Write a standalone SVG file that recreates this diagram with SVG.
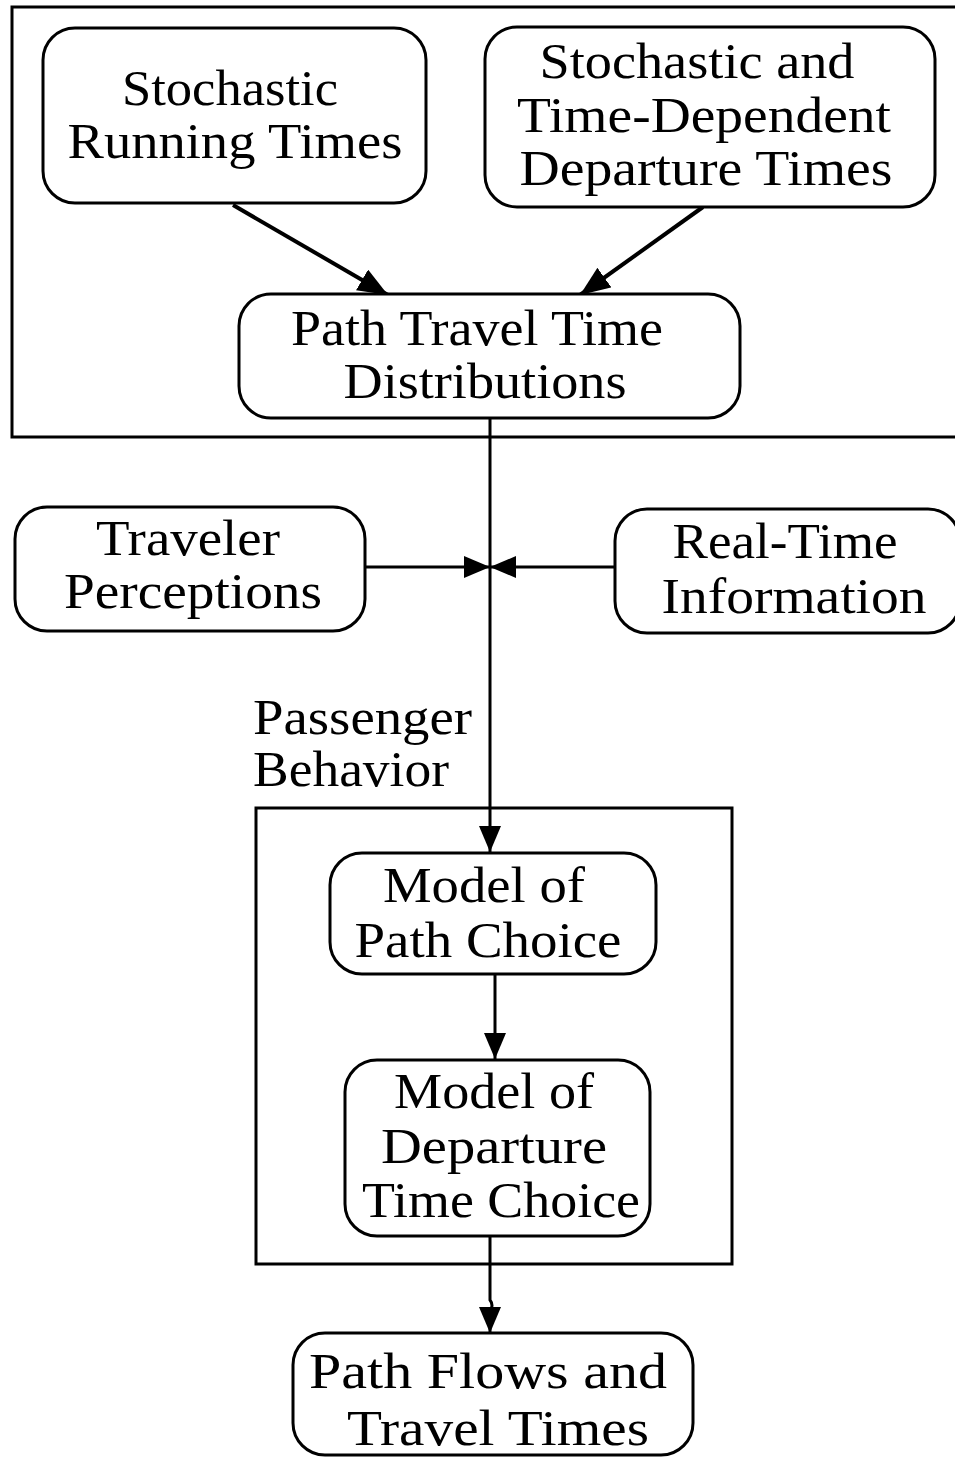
<svg xmlns="http://www.w3.org/2000/svg" width="955" height="1457" viewBox="0 0 955 1457">
<style>
.box{fill:#fff;stroke:#000;stroke-width:3}
.frame{fill:none;stroke:#000;stroke-width:3}
.t{font-family:"Liberation Serif",serif;font-size:50px;fill:#000;text-anchor:middle}
.tl{font-family:"Liberation Serif",serif;font-size:50px;fill:#000}
.c{fill:none;stroke:#000;stroke-width:4}
.c3{fill:none;stroke:#000;stroke-width:3}
</style>
<defs>
<marker id="ah" markerUnits="userSpaceOnUse" markerWidth="30" markerHeight="24" refX="30" refY="12" orient="auto">
<path d="M0,0 L30,12 L0,24 z" fill="#000"/>
</marker>
<marker id="ahs" markerUnits="userSpaceOnUse" markerWidth="26" markerHeight="22" refX="26" refY="11" orient="auto">
<path d="M0,0 L26,11 L0,22 z" fill="#000"/>
</marker>
</defs>
<g id="frames">
<path class="frame" d="M960,7 H12 V437 H960"/>
<rect class="frame" x="256" y="808" width="476" height="456"/>
</g>
<g id="connectors">
<line class="c" x1="233" y1="205" x2="388" y2="295" marker-end="url(#ah)"/>
<line class="c" x1="703" y1="207" x2="580" y2="295" marker-end="url(#ah)"/>
<line class="c3" x1="490" y1="418" x2="490" y2="852" marker-end="url(#ahs)"/>
<line class="c3" x1="365" y1="567" x2="490" y2="567" marker-end="url(#ahs)"/>
<line class="c3" x1="615" y1="567" x2="490" y2="567" marker-end="url(#ahs)"/>
<line class="c3" x1="495" y1="974" x2="495" y2="1059" marker-end="url(#ahs)"/>
<path class="c3" d="M490,1236 V1300 Q494,1305 490,1312 V1333" marker-end="url(#ahs)"/>
</g>
<g id="n-running">
<rect class="box" x="43" y="28" width="383" height="175" rx="32"/>
<text class="t" x="230" y="105" textLength="216" lengthAdjust="spacingAndGlyphs">Stochastic</text>
<text class="t" x="235" y="158" textLength="335" lengthAdjust="spacingAndGlyphs">Running Times</text>
</g>
<g id="n-departure">
<rect class="box" x="485" y="27" width="450" height="180" rx="32"/>
<text class="t" x="697" y="78" textLength="315" lengthAdjust="spacingAndGlyphs">Stochastic and</text>
<text class="t" x="704" y="132" textLength="374" lengthAdjust="spacingAndGlyphs">Time-Dependent</text>
<text class="t" x="706" y="185" textLength="373" lengthAdjust="spacingAndGlyphs">Departure Times</text>
</g>
<g id="n-ptt">
<rect class="box" x="239" y="294" width="501" height="124" rx="32"/>
<text class="t" x="477" y="345" textLength="372" lengthAdjust="spacingAndGlyphs">Path Travel Time</text>
<text class="t" x="485" y="398" textLength="283" lengthAdjust="spacingAndGlyphs">Distributions</text>
</g>
<g id="n-traveler">
<rect class="box" x="15" y="507" width="350" height="124" rx="32"/>
<text class="t" x="188" y="555" textLength="184" lengthAdjust="spacingAndGlyphs">Traveler</text>
<text class="t" x="193" y="608" textLength="258" lengthAdjust="spacingAndGlyphs">Perceptions</text>
</g>
<g id="n-realtime">
<rect class="box" x="615" y="509" width="345" height="124" rx="32"/>
<text class="t" x="785" y="558" textLength="225" lengthAdjust="spacingAndGlyphs">Real-Time</text>
<text class="t" x="794" y="613" textLength="265" lengthAdjust="spacingAndGlyphs">Information</text>
</g>
<g id="label-passenger">
<text class="tl" x="253" y="734" textLength="219" lengthAdjust="spacingAndGlyphs">Passenger</text>
<text class="tl" x="253" y="786" textLength="196" lengthAdjust="spacingAndGlyphs">Behavior</text>
</g>
<g id="n-pathchoice">
<rect class="box" x="330" y="853" width="326" height="121" rx="32"/>
<text class="t" x="484" y="902" textLength="202" lengthAdjust="spacingAndGlyphs">Model of</text>
<text class="t" x="488" y="957" textLength="267" lengthAdjust="spacingAndGlyphs">Path Choice</text>
</g>
<g id="n-deptime">
<rect class="box" x="345" y="1060" width="305" height="176" rx="32"/>
<text class="t" x="494" y="1108" textLength="200" lengthAdjust="spacingAndGlyphs">Model of</text>
<text class="t" x="494" y="1163" textLength="226" lengthAdjust="spacingAndGlyphs">Departure</text>
<text class="t" x="501" y="1217" textLength="278" lengthAdjust="spacingAndGlyphs">Time Choice</text>
</g>
<g id="n-flows">
<rect class="box" x="293" y="1333" width="400" height="122" rx="32"/>
<text class="t" x="488" y="1388" textLength="358" lengthAdjust="spacingAndGlyphs">Path Flows and</text>
<text class="t" x="498" y="1445" textLength="302" lengthAdjust="spacingAndGlyphs">Travel Times</text>
</g>
</svg>
